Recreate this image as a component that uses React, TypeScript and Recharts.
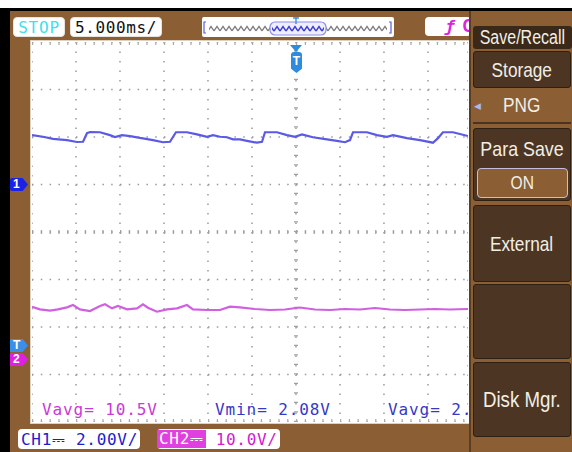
import React from 'react';
import { LineChart, Line, XAxis, YAxis, CartesianGrid, ReferenceLine } from 'recharts';

// time in ms (5 ms/div, trigger at 0)
const ch1Time = [-30.0, -28.75, -27.61, -26.02, -24.89, -24.2, -23.75, -23.41, -22.27, -21.14, -20.57, -19.77, -18.86, -17.73, -16.25, -15.11, -14.32, -13.64, -12.39, -11.25, -10.11, -9.43, -8.64, -7.84, -7.16, -6.36, -5.57, -4.43, -3.86, -3.52, -2.16, -1.02, -0.11, 0.68, 1.93, 3.52, 4.66, 5.57, 6.14, 6.48, 8.07, 9.2, 10.34, 11.02, 12.61, 14.09, 15.57, 16.14, 16.7, 17.84, 19.55];
// CH1 volts (2 V/div)
const ch1Volts = [2.08, 2.01, 1.92, 1.87, 1.79, 1.80, 2.16, 2.21, 2.20, 2.08, 2.00, 2.08, 2.04, 1.96, 1.87, 1.78, 1.80, 2.20, 2.20, 2.11, 2.01, 2.08, 2.01, 1.99, 1.90, 1.90, 1.84, 1.76, 1.80, 2.20, 2.20, 2.08, 2.01, 2.11, 1.99, 1.90, 1.84, 1.78, 1.87, 2.20, 2.20, 2.08, 2.01, 2.08, 1.95, 1.87, 1.76, 1.95, 2.20, 2.20, 2.04];

const ch2Time = [-30, -29.09, -27.95, -27.05, -26.02, -25.34, -24.55, -23.41, -22.27, -21.7, -20.91, -20.23, -19.2, -18.07, -17.39, -16.82, -15.8, -14.66, -13.52, -12.39, -11.7, -10.11, -8.64, -7.5, -6.36, -4.66, -2.95, -1.25, 0.45, 2.16, 3.86, 5.57, 7.27, 8.98, 10.68, 12.39, 14.09, 15.8, 17.5, 19.55];
// CH2 volts (10 V/div)
const ch2Volts = [11.01, 10.46, 10.17, 10.46, 10.88, 11.37, 10.46, 10.11, 11.16, 11.52, 10.67, 11.16, 10.46, 10.67, 11.52, 10.8, 9.96, 10.46, 10.67, 11.37, 10.46, 10.32, 10.32, 11.01, 10.88, 10.53, 10.32, 10.42, 10.84, 10.42, 10.32, 10.53, 10.42, 10.74, 10.42, 10.32, 10.42, 10.53, 10.42, 10.53];

const timeTicks = [-30, -25, -20, -15, -10, -5, 0, 5, 10, 15];
const ch1Ticks = [-10, -8, -6, -4, -2, 0, 2, 4, 6];
const timeDomain = [-30, 19.55];
const ch1Domain = [-10, 6];
const ch2Domain = [-13.26, 66.74];

const measureLabels = ['Vavg= 10.5V', 'Vmin= 2.08V', 'Vavg= 2.'];
const menuItems = ['Save/Recall', 'Storage', 'PNG', 'Para Save', 'ON', 'External', '', 'Disk Mgr.'];

const ch1Data = ch1Time.map((t, i) => ({ t, v: ch1Volts[i] }));
const ch2Data = ch2Time.map((t, i) => ({ t, v: ch2Volts[i] }));

const BROWN = '#8b5e34';
const DARK = '#4c3623';
const TITLE = '#3a2818';
const MONO = '"DejaVu Sans Mono", monospace';
const SANS = '"Liberation Sans", Arial, sans-serif';

const abs = (l: number, t: number, w: number, h: number, extra: React.CSSProperties = {}): React.CSSProperties => ({
  position: 'absolute', left: l, top: t, width: w, height: h, boxSizing: 'border-box', ...extra,
});

function MenuText({ text, size = 21, scale = 0.82 }: { text: string; size?: number; scale?: number }) {
  return (
    <span style={{ fontFamily: SANS, fontSize: size, color: '#f2eee6', display: 'inline-block', transform: `scaleX(${scale})`, whiteSpace: 'nowrap' }}>{text}</span>
  );
}

function boxCenter(): React.CSSProperties {
  return { display: 'flex', alignItems: 'center', justifyContent: 'center' };
}

export default function App() {
  return (
    <div style={{ position: 'absolute', left: 0, top: 0, width: 572, height: 452, overflow: 'hidden', background: '#ffffff' }}>
      {/* frame */}
      <div style={abs(0, 8, 572, 444, { background: '#000' })} />
      <div style={abs(10, 11, 562, 441, { background: BROWN })} />

      {/* top bar */}
      <div style={abs(13, 17, 52, 20, { background: '#fff', borderRadius: 4, border: '1px solid #e8e4dc', ...boxCenter() })}>
        <span style={{ fontFamily: MONO, fontSize: 16, color: '#3ee0ee', letterSpacing: 0.8 }}>STOP</span>
      </div>
      <div style={abs(70, 17, 92, 20, { background: '#fff', borderRadius: 4, border: '1px solid #e8e4dc', ...boxCenter() })}>
        <span style={{ fontFamily: MONO, fontSize: 16, color: '#111', letterSpacing: 0.6 }}>5.000ms/</span>
      </div>
      <div style={abs(202, 17, 192, 20, { background: '#fff', borderRadius: 2 })}>
        <svg width={192} height={20} style={{ position: 'absolute', left: 0, top: 0 }}>
          <defs>
            <pattern id="zzg" width="6" height="8" patternUnits="userSpaceOnUse">
              <path d="M0 6 L3 1.5 L6 6" fill="none" stroke="#7a7a7a" strokeWidth="1.3" />
            </pattern>
            <pattern id="zzb" width="6" height="8" patternUnits="userSpaceOnUse">
              <path d="M0 6 L3 1.5 L6 6" fill="none" stroke="#3c3cd8" strokeWidth="1.4" />
            </pattern>
          </defs>
          <rect x={7} y={7} width={178} height={8} fill="url(#zzg)" />
          <rect x={68} y={5} width={56} height={13} rx={5} fill="#eeeeff" stroke="#8c8ce8" strokeWidth={1.2} />
          <rect x={70} y={7} width={52} height={8} fill="url(#zzb)" />
          <path d="M4 5 L2 5 L2 16 L4 16" fill="none" stroke="#5a5ae0" strokeWidth={1.2} />
          <path d="M187 5 L189 5 L189 16 L187 16" fill="none" stroke="#5a5ae0" strokeWidth={1.2} />
          <path d="M94 0 L94 7 M91 1 L97 1" fill="none" stroke="#3a8ee8" strokeWidth={1.4} />
        </svg>
      </div>
      <div style={abs(425, 17, 46, 19, { background: '#fff', borderRadius: 4, overflow: 'hidden' })}>
        <span style={{ position: 'absolute', left: 20, top: 0, fontFamily: MONO, fontSize: 16, color: '#e020e0', fontStyle: 'italic', fontWeight: 'bold' }}>ƒ</span>
        <span style={{ position: 'absolute', left: 37, top: -1, fontFamily: MONO, fontSize: 17, color: '#e020e0', fontWeight: 'bold' }}>C</span>
      </div>

      {/* plot area */}
      <div style={abs(30, 40, 440, 384, { background: '#fff', border: '1px solid #ddd2c0' })} />
      <div style={{ position: 'absolute', left: 32, top: 42 }}>
        <LineChart width={436} height={380} margin={{ top: 0, right: 0, bottom: 0, left: 0 }}>
          <XAxis dataKey="t" type="number" domain={timeDomain} ticks={timeTicks} hide allowDataOverflow />
          <YAxis yAxisId="ch1" type="number" domain={ch1Domain} ticks={ch1Ticks} hide allowDataOverflow />
          <YAxis yAxisId="ch2" type="number" domain={ch2Domain} hide allowDataOverflow />
          <CartesianGrid yAxisId="ch1" horizontal={false} stroke="#9a9a9a" strokeWidth={1.5} strokeDasharray="1.5 8" />
          <CartesianGrid yAxisId="ch1" vertical={false} stroke="#9a9a9a" strokeWidth={1.5} strokeDasharray="1.5 7.3" />
          <ReferenceLine x={0} yAxisId="ch1" stroke="#a0a0a0" strokeWidth={4} strokeDasharray="1.2 8.3" />
          <ReferenceLine y={-2} yAxisId="ch1" stroke="#a0a0a0" strokeWidth={4} strokeDasharray="1.2 7.6" />
          <ReferenceLine y={6} yAxisId="ch1" stroke="#a8a8a8" strokeWidth={6} strokeDasharray="1.2 7.6" />
          <ReferenceLine y={-10} yAxisId="ch1" stroke="#a8a8a8" strokeWidth={6} strokeDasharray="1.2 7.6" />
          <Line data={ch2Data} dataKey="v" yAxisId="ch2" type="linear" stroke="#d060e0" strokeWidth={2.2} dot={false} isAnimationActive={false} />
          <Line data={ch1Data} dataKey="v" yAxisId="ch1" type="linear" stroke="#5a5ae6" strokeWidth={2.2} dot={false} isAnimationActive={false} />
        </LineChart>
      </div>

      {/* measurements */}
      <div style={{ position: 'absolute', left: 42, top: 400, fontFamily: MONO, fontSize: 16, color: '#c83ad8', letterSpacing: 0.9, whiteSpace: 'nowrap' }}>{measureLabels[0]}</div>
      <div style={{ position: 'absolute', left: 215, top: 400, fontFamily: MONO, fontSize: 16, color: '#3838c8', letterSpacing: 0.9, whiteSpace: 'nowrap' }}>{measureLabels[1]}</div>
      <div style={{ position: 'absolute', left: 388, top: 400, fontFamily: MONO, fontSize: 16, color: '#3838c8', letterSpacing: 0.9, whiteSpace: 'nowrap' }}>{measureLabels[2]}</div>

      {/* trigger marker top */}
      <div style={abs(290, 45, 12, 7, { background: '#2f8be0', clipPath: 'polygon(0 0, 100% 0, 50% 100%)' })} />
      <div style={abs(291, 52, 11, 21, { background: '#2f8be0', borderRadius: '3px 3px 5px 5px', clipPath: 'polygon(0 0,100% 0,100% 80%,50% 100%,0 80%)', ...boxCenter() })}>
        <span style={{ fontFamily: SANS, fontWeight: 'bold', fontSize: 12, color: '#fff', marginTop: -3 }}>T</span>
      </div>

      {/* left channel markers */}
      <div style={abs(10, 178, 18, 13, { background: '#1a22e8', clipPath: 'polygon(0 0,70% 0,100% 50%,70% 100%,0 100%)', borderRadius: 2 })}>
        <span style={{ position: 'absolute', left: 3, top: -1, fontFamily: SANS, fontWeight: 'bold', fontSize: 12, color: '#fff' }}>1</span>
      </div>
      <div style={abs(10, 339, 18, 13, { background: '#3a90e8', clipPath: 'polygon(0 0,70% 0,100% 50%,70% 100%,0 100%)' })}>
        <span style={{ position: 'absolute', left: 3, top: -1, fontFamily: SANS, fontWeight: 'bold', fontSize: 12, color: '#fff' }}>T</span>
      </div>
      <div style={abs(10, 353, 18, 13, { background: '#e020e0', clipPath: 'polygon(0 0,70% 0,100% 50%,70% 100%,0 100%)' })}>
        <span style={{ position: 'absolute', left: 3, top: -1, fontFamily: SANS, fontWeight: 'bold', fontSize: 12, color: '#fff' }}>2</span>
      </div>

      {/* bottom channel boxes */}
      <div style={abs(18, 429, 122, 20, { background: '#fff', borderRadius: 4, display: 'flex', alignItems: 'center', paddingLeft: 3 })}>
        <span style={{ fontFamily: MONO, fontSize: 16, color: '#1c1ccc', letterSpacing: 0.7, whiteSpace: 'nowrap' }}>CH1⎓ 2.00V/</span>
      </div>
      <div style={abs(157, 429, 123, 20, { background: '#fff', borderRadius: 4, display: 'flex', alignItems: 'center' })}>
        <span style={{ fontFamily: MONO, fontSize: 16, color: '#fff', background: '#e040e0', letterSpacing: 0.7, whiteSpace: 'nowrap', padding: '0 2px', lineHeight: '18px' }}>CH2⎓</span>
        <span style={{ fontFamily: MONO, fontSize: 16, color: '#d020d0', letterSpacing: 0.7, whiteSpace: 'nowrap', marginLeft: 10 }}>10.0V/</span>
      </div>

      {/* right menu */}
      <div style={abs(469, 11, 103, 441, { background: BROWN, borderLeft: '2px solid #5a3e22' })} />
      <div style={abs(473, 26, 99, 23, { background: TITLE, borderRadius: 3, ...boxCenter() })}>
        <MenuText text={menuItems[0]} size={20} scale={0.8} />
      </div>
      <div style={abs(473, 51, 98, 37, { background: DARK, borderRadius: 3, border: '1px solid #2e2012', ...boxCenter() })}>
        <MenuText text={menuItems[1]} />
      </div>
      <div style={abs(473, 88, 98, 36, { borderBottom: '2px solid #4a3320', ...boxCenter() })}>
        <span style={{ position: 'absolute', left: 1, top: 13, color: '#a8b8f0', fontSize: 9, fontFamily: SANS }}>◀</span>
        <MenuText text={menuItems[2]} />
      </div>
      <div style={abs(473, 128, 98, 73, { background: DARK, borderRadius: 3, border: '1px solid #2e2012' })}>
        <div style={{ position: 'absolute', left: 0, top: 8, width: 96, ...boxCenter() }}>
          <MenuText text={menuItems[3]} scale={0.85} />
        </div>
        <div style={abs(3, 39, 91, 30, { background: BROWN, border: '1.5px solid #c4bedc', borderRadius: 4, ...boxCenter() })}>
          <MenuText text={menuItems[4]} size={19} />
        </div>
      </div>
      <div style={abs(473, 205, 98, 77, { background: DARK, borderRadius: 3, border: '1px solid #2e2012', ...boxCenter() })}>
        <MenuText text={menuItems[5]} />
      </div>
      <div style={abs(473, 284, 98, 75, { background: DARK, borderRadius: 3, border: '1px solid #2e2012' })} />
      <div style={abs(473, 362, 98, 75, { background: DARK, borderRadius: 3, border: '1px solid #2e2012', ...boxCenter() })}>
        <MenuText text={menuItems[7]} size={22} scale={0.85} />
      </div>
    </div>
  );
}
